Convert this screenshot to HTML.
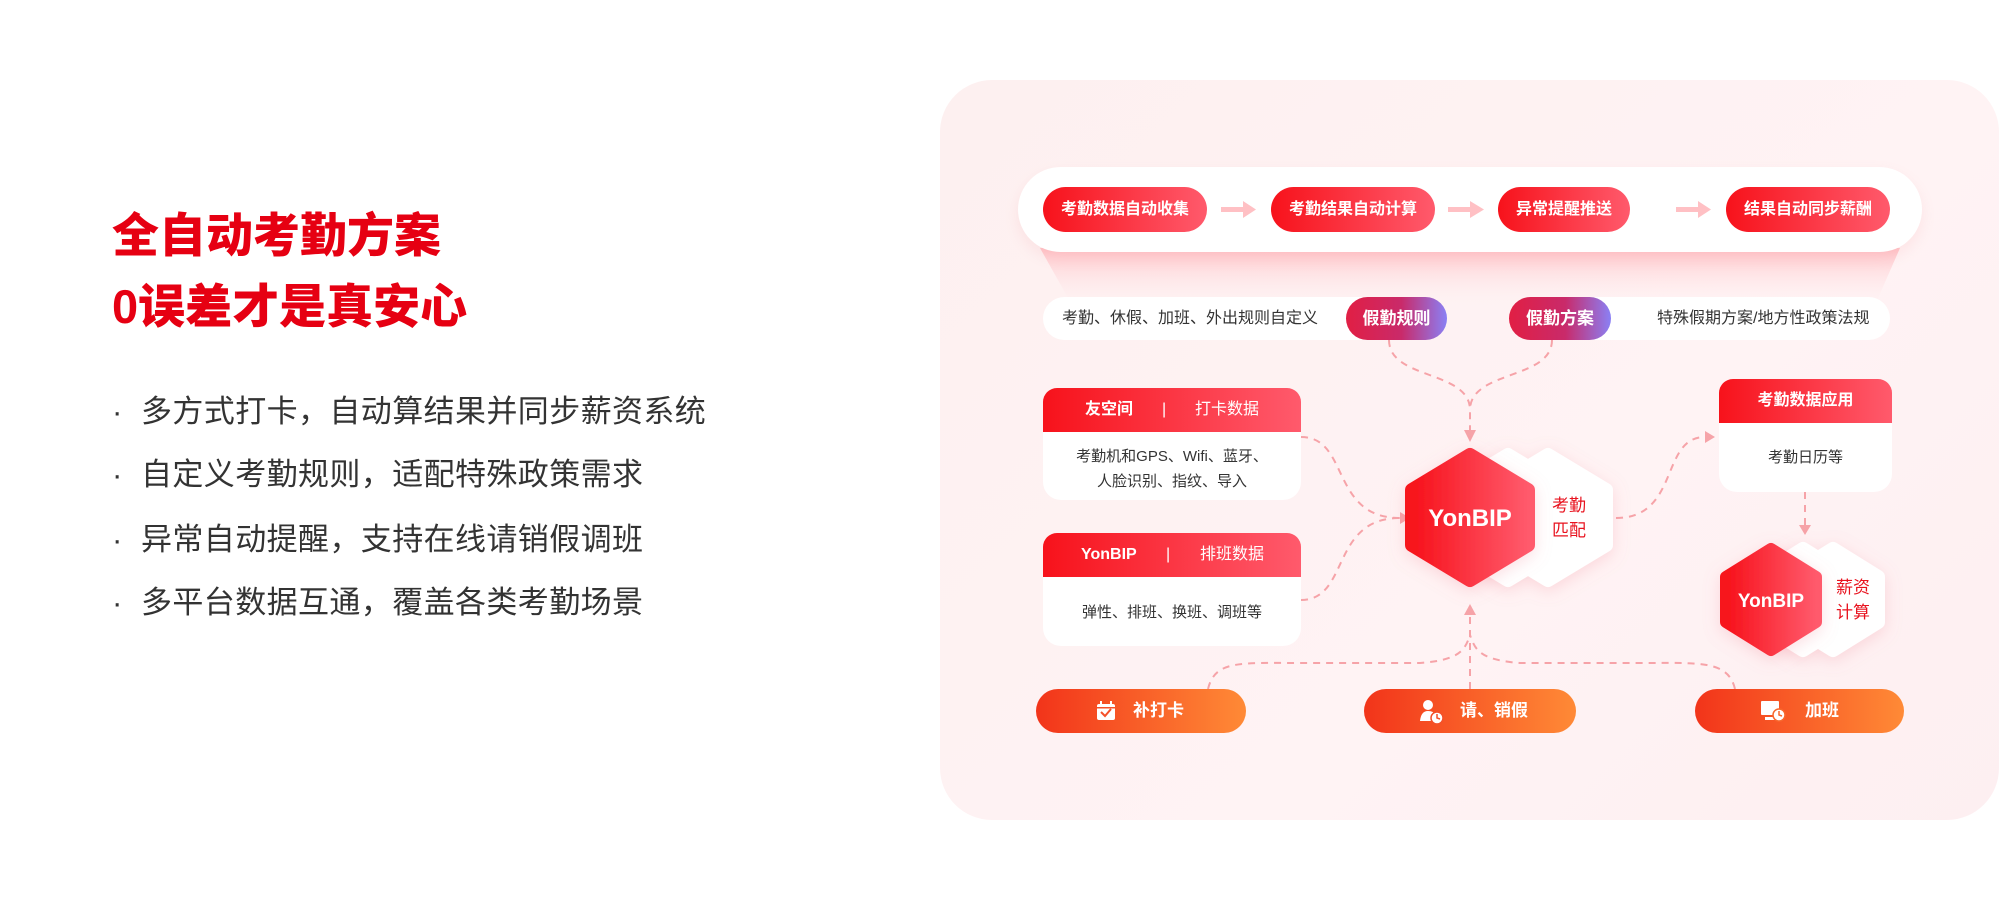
<!DOCTYPE html>
<html><head><meta charset="utf-8"><style>
*{margin:0;padding:0;box-sizing:border-box}
body{width:2000px;height:900px;background:#fff;position:relative;overflow:hidden;font-family:"Liberation Sans","Noto Sans CJK SC",sans-serif}
.a{position:absolute}
.t{color:#e60012;font-weight:900;font-size:47px;left:112px;line-height:56px;letter-spacing:0}
.b{left:112px;font-size:31px;color:#333;line-height:40px;letter-spacing:0.4px}
.b span{display:inline-block;width:29px}
.card{left:940px;top:80px;width:1059px;height:740px;border-radius:52px;background:linear-gradient(135deg,#fdf0f0,#fff3f4 60%,#fdeff1)}
.rp{height:45px;border-radius:23px;background:linear-gradient(90deg,#f7121b,#ff5a6c);color:#fff;font-weight:700;font-size:16px;text-align:center;line-height:45px}
.pp{height:43px;border-radius:22px;background:linear-gradient(90deg,#e11f44,#c92a6a 55%,#8a80f5);color:#fff;font-weight:700;font-size:17px;text-align:center;line-height:43px}
.wp{background:#fff;border-radius:22px;height:43px;font-size:16px;color:#333;line-height:43px}
.hd{height:44px;border-radius:14px 14px 0 0;background:linear-gradient(90deg,#f7121b,#ff5a6c);color:#fff;font-size:16px;line-height:44px}
.bd{background:#fff;border-radius:0 0 18px 18px;color:#333;font-size:15px;text-align:center}
.ob{height:44px;border-radius:22px;background:linear-gradient(90deg,#f2341a,#ff8a36);color:#fff;font-weight:700;font-size:17px;line-height:44px;text-align:center}
</style></head><body>
<div class="a t" style="top:208px">全自动考勤方案</div>
<div class="a t" style="top:279px">0误差才是真安心</div>
<div class="a b" style="top:392px"><span>·</span>多方式打卡，自动算结果并同步薪资系统</div>
<div class="a b" style="top:455px"><span>·</span>自定义考勤规则，适配特殊政策需求</div>
<div class="a b" style="top:520px"><span>·</span>异常自动提醒，支持在线请销假调班</div>
<div class="a b" style="top:583px"><span>·</span>多平台数据互通，覆盖各类考勤场景</div>

<div class="a card"></div>
<svg class="a" style="left:0;top:0" width="2000" height="900">
<defs>
<linearGradient id="sh" x1="0" y1="0" x2="0" y2="1"><stop offset="0" stop-color="#ffc4c8"/><stop offset="1" stop-color="#ffeef0" stop-opacity="0"/></linearGradient>
<linearGradient id="rg" x1="0" y1="0" x2="1" y2="0"><stop offset="0" stop-color="#f7121b"/><stop offset="1" stop-color="#ff5a6c"/></linearGradient>
<filter id="ds" x="-30%" y="-30%" width="160%" height="160%"><feDropShadow dx="0" dy="4" stdDeviation="8" flood-color="#f08090" flood-opacity="0.25"/></filter>
</defs>
<polygon points="1040,248 1900,248 1875,305 1072,305" fill="url(#sh)"/>
<g fill="none" stroke="#f6a3a8" stroke-width="2" stroke-dasharray="7,6">
<path d="M1389,340 C1389,380 1470,370 1470,410 L1470,430"/>
<path d="M1552,340 C1552,380 1470,370 1470,410"/>
<path d="M1301,437 C1350,437 1330,518 1400,518"/>
<path d="M1301,600 C1350,600 1330,518 1400,518"/>
<path d="M1616,518 C1680,518 1660,437 1705,437"/>
<path d="M1805,492 L1805,525"/>
<path d="M1470,689 L1470,615"/>
<path d="M1208,689 C1215,660 1240,663 1300,663 L1420,663 C1460,660 1465,650 1470,635"/>
<path d="M1735,689 C1728,660 1700,663 1640,663 L1520,663 C1480,660 1475,650 1470,635"/>
</g>
<g fill="#f6a3a8"><polygon points="1464,430 1476,430 1470,442"/><polygon points="1400,512 1400,524 1410,518"/><polygon points="1705,431 1705,443 1715,437"/><polygon points="1799,525 1811,525 1805,535"/><polygon points="1464,615 1476,615 1470,604"/></g>
<g fill="#fff" stroke="#fff" stroke-width="14" stroke-linejoin="round" filter="url(#ds)">
<polygon points="1548,455 1606,490 1606,545 1548,580 1490,545 1490,490"/>
<polygon points="1508,455 1566,490 1566,545 1508,580 1450,545 1450,490"/>
<polygon points="1833,549 1878,577 1878,622 1833,650 1788,622 1788,577"/>
<polygon points="1803,549 1848,577 1848,622 1803,650 1758,622 1758,577"/>
</g>
<polygon points="1470,455 1528,490 1528,545 1470,580 1412,545 1412,490" fill="url(#rg)" stroke="url(#rg)" stroke-width="14" stroke-linejoin="round" filter="url(#ds)"/>
<polygon points="1771,549 1816,577 1816,622 1771,650 1726,622 1726,577" fill="url(#rg)" stroke="url(#rg)" stroke-width="12" stroke-linejoin="round" filter="url(#ds)"/>
<text x="1470" y="526" fill="#fff" font-size="24" font-weight="700" text-anchor="middle" font-family="Liberation Sans,sans-serif">YonBIP</text>
<text x="1771" y="607" fill="#fff" font-size="19" font-weight="700" text-anchor="middle" font-family="Liberation Sans,sans-serif">YonBIP</text>
<g fill="#e8121e" font-size="17" font-family="Liberation Sans,Noto Sans CJK SC,sans-serif"><text x="1552" y="511">考勤</text><text x="1552" y="536">匹配</text><text x="1836" y="593">薪资</text><text x="1836" y="618">计算</text></g>
</svg>

<div class="a" style="left:1018px;top:167px;width:904px;height:85px;border-radius:43px;background:#fff;box-shadow:0 6px 14px rgba(240,120,130,.12)"></div>
<svg class="a" style="left:0;top:0" width="2000" height="300">
<g fill="#ffc0c4"><rect x="1221" y="207" width="22" height="5"/><polygon points="1243,201 1256,209.5 1243,218"/><rect x="1448" y="207" width="22" height="5"/><polygon points="1470,201 1484,209.5 1470,218"/><rect x="1676" y="207" width="22" height="5"/><polygon points="1698,201 1711,209.5 1698,218"/></g>
</svg>
<div class="a rp" style="left:1043px;top:187px;width:164px">考勤数据自动收集</div>
<div class="a rp" style="left:1271px;top:187px;width:164px">考勤结果自动计算</div>
<div class="a rp" style="left:1498px;top:187px;width:132px">异常提醒推送</div>
<div class="a rp" style="left:1726px;top:187px;width:164px">结果自动同步薪酬</div>

<div class="a wp" style="left:1043px;top:297px;width:400px;padding-left:19px">考勤、休假、加班、外出规则自定义</div>
<div class="a pp" style="left:1346px;top:297px;width:101px">假勤规则</div>
<div class="a wp" style="left:1540px;top:297px;width:350px;padding-left:117px">特殊假期方案/地方性政策法规</div>
<div class="a pp" style="left:1509px;top:297px;width:102px">假勤方案</div>

<div class="a hd" style="left:1043px;top:388px;width:258px"><b style="position:absolute;left:42px">友空间</b><span style="position:absolute;left:119px">|</span><span style="position:absolute;left:152px">打卡数据</span></div>
<div class="a bd" style="left:1043px;top:432px;width:258px;height:68px;padding-top:12px;line-height:25px">考勤机和GPS、Wifi、蓝牙、<br>人脸识别、指纹、导入</div>
<div class="a hd" style="left:1043px;top:533px;width:258px"><b style="position:absolute;left:38px">YonBIP</b><span style="position:absolute;left:123px">|</span><span style="position:absolute;left:157px">排班数据</span></div>
<div class="a bd" style="left:1043px;top:577px;width:258px;height:69px;line-height:72px">弹性、排班、换班、调班等</div>

<div class="a hd" style="left:1719px;top:379px;width:173px;text-align:center;font-weight:700">考勤数据应用</div>
<div class="a bd" style="left:1719px;top:423px;width:173px;height:69px;line-height:70px">考勤日历等</div>

<div class="a ob" style="left:1036px;top:689px;width:210px">
<svg style="position:absolute;left:60px;top:12px" width="20" height="20"><rect x="1" y="3" width="18" height="16" rx="2" fill="#fff"/><rect x="4" y="0" width="2" height="5" fill="#fff"/><rect x="14" y="0" width="2" height="5" fill="#fff"/><path d="M5,11 L9,15 L15,8" stroke="#f4512a" stroke-width="2" fill="none"/><rect x="1" y="6" width="18" height="1.5" fill="#f4512a"/></svg>
<span style="position:absolute;left:97px">补打卡</span></div>
<div class="a ob" style="left:1364px;top:689px;width:212px">
<svg style="position:absolute;left:55px;top:10px" width="26" height="26"><circle cx="9" cy="6" r="5" fill="#fff"/><path d="M1,22 Q2,12 9,12 Q15,12 16,16 L16,22 Z" fill="#fff"/><circle cx="18" cy="19" r="6" fill="#fff" stroke="#f4512a" stroke-width="1.5"/><path d="M18,15 L18,19 L21,20" stroke="#f4512a" stroke-width="1.5" fill="none"/></svg>
<span style="position:absolute;left:96px">请、销假</span></div>
<div class="a ob" style="left:1695px;top:689px;width:209px">
<svg style="position:absolute;left:65px;top:11px" width="26" height="24"><rect x="1" y="1" width="18" height="14" rx="1" fill="#fff"/><rect x="5" y="17" width="10" height="3" fill="#fff"/><circle cx="19" cy="15" r="6" fill="#fff" stroke="#f8682e" stroke-width="1.5"/><path d="M19,11 L19,15 L22,16" stroke="#f8682e" stroke-width="1.5" fill="none"/></svg>
<span style="position:absolute;left:110px">加班</span></div>
</body></html>
